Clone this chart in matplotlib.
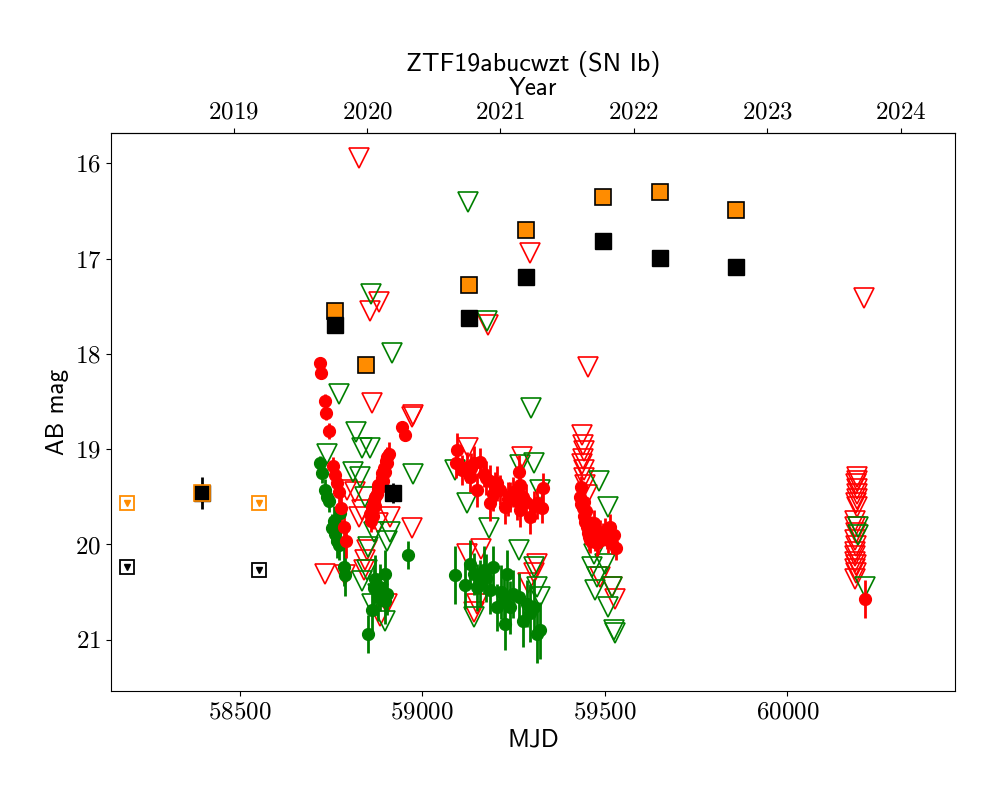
import numpy as np
import matplotlib
matplotlib.use("Agg")
import matplotlib.pyplot as plt

plt.rcParams['font.family'] = ['cmr10', 'DejaVu Sans']
plt.rcParams['axes.formatter.use_mathtext'] = True
plt.rcParams['mathtext.fontset'] = 'cm'

title = "ZTF19abucwzt (SN Ib)"

# ZTF r-band detections: MJD, mag, err
r_mjd = [58721, 58723, 58733, 58737, 58744, 58756, 58762, 58767, 58771, 58778, 58785, 58792,
         58856, 58862, 58867, 58872, 58876, 58880, 58885, 58889, 58893, 58896, 58899, 58903,
         58905, 58908, 58944, 58953, 58860, 58870, 58878, 58890, 58900, 58865,
         59095, 59093, 59122, 59141, 59159, 59131, 59150, 59168, 59186, 59205, 59214, 59195,
         59186, 59227, 59241, 59264, 59268, 59259, 59277, 59268, 59296, 59314, 59328, 59330,
         59110, 59135, 59175, 59200, 59235, 59250, 59285, 59305,
         59432, 59436, 59440, 59444, 59446, 59450, 59453, 59457, 59460, 59462, 59466, 59470,
         59474, 59478, 59482, 59488, 59494, 59500, 59505, 59510, 59515, 59520, 59525, 59530,
         59434, 59442, 59448,
         60213]
r_mag = [18.10, 18.20, 18.49, 18.62, 18.81, 19.18, 19.27, 19.36, 19.45, 19.62, 19.82, 19.96,
         19.68, 19.61, 19.54, 19.50, 19.47, 19.42, 19.40, 19.30, 19.33, 19.20, 19.24, 19.15,
         19.08, 19.05, 18.77, 18.85, 19.75, 19.60, 19.38, 19.25, 19.12, 19.70,
         19.01, 19.15, 19.19, 19.15, 19.13, 19.29, 19.43, 19.26, 19.33, 19.36, 19.43, 19.47,
         19.57, 19.61, 19.50, 19.24, 19.38, 19.54, 19.50, 19.64, 19.71, 19.57, 19.62, 19.41,
         19.22, 19.20, 19.30, 19.40, 19.52, 19.45, 19.55, 19.60,
         19.50, 19.58, 19.62, 19.70, 19.76, 19.82, 19.88, 19.92, 19.95, 19.85, 19.90, 19.78,
         19.92, 19.98, 19.95, 19.88, 19.90, 19.86, 19.93, 19.95, 19.82, 19.98, 19.90, 20.04,
         19.40, 19.55, 19.65,
         20.57]
r_err = [0.05, 0.06, 0.07, 0.07, 0.08, 0.10, 0.12, 0.10, 0.12, 0.15, 0.15, 0.18,
         0.12, 0.15, 0.12, 0.14, 0.12, 0.15, 0.12, 0.12, 0.10, 0.10, 0.10, 0.12,
         0.10, 0.12, 0.06, 0.06, 0.12, 0.15, 0.14, 0.12, 0.12, 0.14,
         0.18, 0.15, 0.16, 0.18, 0.14, 0.16, 0.18, 0.14, 0.16, 0.18, 0.16, 0.18,
         0.18, 0.18, 0.16, 0.18, 0.18, 0.20, 0.16, 0.18, 0.18, 0.16, 0.16, 0.16,
         0.16, 0.16, 0.18, 0.16, 0.18, 0.16, 0.18, 0.16,
         0.12, 0.14, 0.12, 0.14, 0.15, 0.14, 0.15, 0.15, 0.14, 0.15, 0.14, 0.14,
         0.15, 0.14, 0.15, 0.14, 0.12, 0.14, 0.12, 0.14, 0.14, 0.12, 0.12, 0.12,
         0.12, 0.14, 0.14,
         0.20]

# ZTF g-band detections
g_mjd = [58721, 58725, 58735, 58739, 58744, 58774, 58753, 58762, 58767, 58771, 58785, 58789,
         58871, 58867, 58885, 58899, 58903, 58899, 58862, 58853, 58960, 58758, 58880,
         59091, 59118, 59131, 59141, 59159, 59168, 59195, 59186, 59232, 59223, 59241, 59205,
         59250, 59277, 59286, 59305, 59314, 59323, 59227, 59150, 59265, 59175, 59215, 59295]
g_mag = [19.15, 19.25, 19.43, 19.50, 19.54, 19.67, 19.83, 19.89, 19.96, 20.01, 20.24, 20.32,
         20.36, 20.46, 20.45, 20.31, 20.52, 20.59, 20.69, 20.94, 20.11, 19.75, 20.55,
         20.32, 20.43, 20.20, 20.31, 20.41, 20.27, 20.24, 20.48, 20.31, 20.59, 20.66, 20.66,
         20.52, 20.80, 20.62, 20.66, 20.94, 20.90, 20.83, 20.45, 20.55, 20.35, 20.50, 20.72]
g_err = [0.08, 0.10, 0.12, 0.10, 0.12, 0.12, 0.15, 0.15, 0.18, 0.15, 0.20, 0.22,
         0.25, 0.22, 0.25, 0.25, 0.22, 0.25, 0.25, 0.20, 0.15, 0.15, 0.25,
         0.30, 0.25, 0.25, 0.22, 0.25, 0.25, 0.22, 0.25, 0.25, 0.30, 0.28, 0.25,
         0.25, 0.28, 0.25, 0.30, 0.30, 0.30, 0.28, 0.25, 0.25, 0.25, 0.28, 0.30]

# ZTF r-band upper limits
rl_mjd = [58828, 58882, 58858, 58862, 58973, 58976, 58972, 58734, 59295, 59181, 59455, 60210,
          58817, 58794, 58835, 58826, 58912, 58880, 58849, 58844, 58789, 58840, 58903, 58885,
          59126, 59273, 59122, 59141, 59314, 59305, 59160, 59290, 59150,
          59437, 59440, 59443, 59441, 59438, 59444, 59442, 59446, 59528, 59487, 59450, 59520,
          60190, 60191, 60189, 60190, 60192, 60190, 60189, 60191,
          60185, 60186, 60188, 60184, 60187, 60185, 60186, 60184, 60188, 60185, 60187, 60186]
rl_mag = [15.94, 17.46, 17.55, 18.52, 18.66, 18.64, 19.83, 20.31, 16.94, 17.70, 18.14, 17.41,
          19.45, 19.43, 19.64, 19.71, 19.71, 19.78, 20.06, 20.16, 20.32, 20.27, 20.62, 20.75,
          18.99, 19.08, 20.10, 20.71, 20.20, 20.30, 20.05, 20.40, 20.62,
          18.85, 18.96, 19.02, 19.10, 19.16, 19.22, 19.30, 19.38, 20.57, 20.34, 19.48, 20.45,
          19.29, 19.33, 19.37, 19.42, 19.47, 19.52, 19.57, 19.61,
          19.75, 19.82, 19.88, 19.95, 20.02, 20.08, 20.12, 20.18, 20.22, 20.26, 20.30, 20.36]

# ZTF g-band upper limits
gl_mjd = [59126, 58773, 58861, 58917, 59299, 59178,
          58819, 58835, 58858, 58739, 58975, 58830, 58812, 58844, 58867, 58912, 58903, 58853,
          58849, 58835, 58862, 58899, 58880,
          59090, 59122, 59182, 59264, 59305, 59323, 59141, 59305, 59314, 59268, 59323, 59160,
          59483, 59510, 59465, 59478, 59473, 59519, 59510, 59524, 59528, 59470, 59500,
          60194, 60193, 60213]
gl_mag = [16.41, 18.42, 17.37, 17.99, 18.57, 17.65,
          18.82, 18.99, 18.99, 19.05, 19.26, 19.29, 19.24, 19.50, 19.87, 19.87, 19.96, 20.03,
          20.27, 20.38, 20.62, 20.80, 20.52,
          19.22, 19.57, 19.83, 20.06, 19.15, 19.43, 20.76, 20.24, 20.45, 19.17, 20.55, 20.40,
          19.33, 19.61, 20.24, 20.34, 20.48, 20.45, 20.66, 20.90, 20.93, 20.10, 20.20,
          19.82, 19.90, 20.45]

# orange squares (detections)
o_mjd = [58762, 58847, 59129, 59285, 59495, 59651, 59859]
o_mag = [17.55, 18.12, 17.28, 16.70, 16.35, 16.30, 16.49]

# black squares (detections)
k_mjd = [58398, 58762, 58921, 59129, 59285, 59495, 59651, 59859]
k_mag = [19.46, 17.70, 19.46, 17.62, 17.19, 16.82, 16.99, 17.09]
k_err = [0.17, 0.0, 0.10, 0.0, 0.0, 0.0, 0.0, 0.0]

# square upper limits
ol_mjd = [58193, 58554]
ol_mag = [19.56, 19.56]
kl_mjd = [58193, 58554]
kl_mag = [20.24, 20.27]

fig = plt.figure(figsize=(10, 8), dpi=100)
ax = fig.add_axes([0.111, 0.136, 0.844, 0.698])

RED = '#ff0000'
GREEN = '#008000'
ORANGE = '#ff8c00'

ax.plot(rl_mjd, rl_mag, 'v', ms=14, mfc='none', mec=RED, mew=1.2, zorder=2)
ax.plot(gl_mjd, gl_mag, 'v', ms=14, mfc='none', mec=GREEN, mew=1.2, zorder=2)
ax.errorbar(g_mjd, g_mag, yerr=g_err, fmt='o', color=GREEN, ms=8.5, elinewidth=2, capsize=0, zorder=3)
ax.errorbar(r_mjd, r_mag, yerr=r_err, fmt='o', color=RED, ms=8.5, elinewidth=2, capsize=0, zorder=3)

# square upper limits
ax.plot(ol_mjd, ol_mag, 's', ms=10, mfc='none', mec=ORANGE, mew=1.3, zorder=4)
ax.plot(ol_mjd, ol_mag, 'v', ms=5, color=ORANGE, zorder=4)
ax.plot(kl_mjd, kl_mag, 's', ms=10, mfc='none', mec='black', mew=1.3, zorder=4)
ax.plot(kl_mjd, kl_mag, 'v', ms=5, color='black', zorder=4)

ax.plot(o_mjd, o_mag, 's', ms=12, mfc=ORANGE, mec='black', mew=1.2, zorder=5)
ax.errorbar(k_mjd, k_mag, yerr=k_err, fmt='s', ms=12, mfc='black', mec='black',
            ecolor='black', elinewidth=2, capsize=0, zorder=6)
# first black square has an orange rim
ax.plot(k_mjd[:1], k_mag[:1], 's', ms=12, mfc='black', mec=ORANGE, mew=1.2, zorder=7)

ax.set_xlim(58148, 60459)
ax.set_ylim(21.54, 15.68)
ax.set_xticks([58500, 59000, 59500, 60000])
ax.set_yticks([16, 17, 18, 19, 20, 21])
ax.tick_params(labelsize=18)

lab_font = dict(family='cmss10', size=18)
ax.set_xlabel('MJD', fontdict=lab_font)
ax.set_ylabel('AB mag', fontdict=lab_font)

def mjd2year(m):
    return 2000.0 + (np.asarray(m) - 51544.0) / 365.25

def year2mjd(y):
    return 51544.0 + (np.asarray(y) - 2000.0) * 365.25

sec = ax.secondary_xaxis('top', functions=(mjd2year, year2mjd))
sec.set_xticks([2019, 2020, 2021, 2022, 2023, 2024])
sec.tick_params(labelsize=18)
sec.set_xlabel('Year', fontdict=lab_font)
ax.set_title(title, fontdict=dict(family='cmss10', size=18.7), pad=3)

fig.savefig('out.png', dpi=100)
